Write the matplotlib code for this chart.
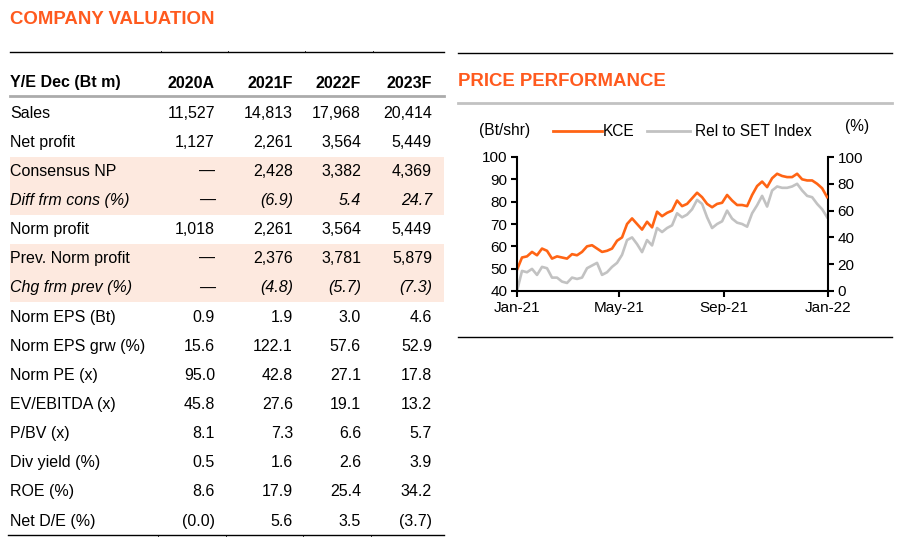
import numpy as np
import pandas as pd
import matplotlib
matplotlib.use("Agg")
import matplotlib.pyplot as plt
import matplotlib.dates as mdates
from matplotlib.patches import Rectangle

plt.rcParams["font.family"] = ["Liberation Sans", "DejaVu Sans"]

ORANGE = "#ff6414"
TITLE_ORANGE = "#ff5a1e"
SHADE = "#fde9df"
GREY_LINE = "#c2c2c2"

# ---- table data ----
columns = ["2020A", "2021F", "2022F", "2023F"]
row_labels = ["Sales", "Net profit", "Consensus NP", "Diff frm cons (%)",
              "Norm profit", "Prev. Norm profit", "Chg frm prev (%)",
              "Norm EPS (Bt)", "Norm EPS grw (%)", "Norm PE (x)",
              "EV/EBITDA (x)", "P/BV (x)", "Div yield (%)", "ROE (%)",
              "Net D/E (%)"]
values = [
    ["11,527", "14,813", "17,968", "20,414"],
    ["1,127", "2,261", "3,564", "5,449"],
    ["\u2014", "2,428", "3,382", "4,369"],
    ["\u2014", "(6.9)", "5.4", "24.7"],
    ["1,018", "2,261", "3,564", "5,449"],
    ["\u2014", "2,376", "3,781", "5,879"],
    ["\u2014", "(4.8)", "(5.7)", "(7.3)"],
    ["0.9", "1.9", "3.0", "4.6"],
    ["15.6", "122.1", "57.6", "52.9"],
    ["95.0", "42.8", "27.1", "17.8"],
    ["45.8", "27.6", "19.1", "13.2"],
    ["8.1", "7.3", "6.6", "5.7"],
    ["0.5", "1.6", "2.6", "3.9"],
    ["8.6", "17.9", "25.4", "34.2"],
    ["(0.0)", "5.6", "3.5", "(3.7)"],
]
italic_rows = ["Diff frm cons (%)", "Chg frm prev (%)"]
shaded_rows = ["Consensus NP", "Diff frm cons (%)", "Prev. Norm profit", "Chg frm prev (%)"]

# ---- price data ----
kce = [49.5, 55, 55.5, 57.5, 56, 59, 58, 54.5, 55.5, 55, 54.5, 56.5, 56, 57.5,
       60, 60.5, 59, 57.5, 58, 59, 62.5, 64, 70, 72.5, 70, 67.5, 71, 68.5,
       75.5, 73.5, 75, 76, 80.5, 78, 79, 81.5, 84, 82, 79, 77.5, 79, 79.5,
       83, 80.5, 78.5, 78.5, 78, 83, 87, 89, 86.5, 90.5, 92.5, 91.5, 91, 91,
       92.5, 90, 89.5, 89.5, 88, 86, 82]
rel_set = [0, 15, 14, 16.5, 12, 18, 17, 10, 10, 7, 6, 10, 9, 10, 17, 19, 21,
           12, 14, 18, 21, 27, 38, 40, 35, 29, 38, 34, 47, 44, 47, 49, 58, 55,
           57, 61, 68, 65, 55, 47, 50, 52, 60, 54, 51, 50, 48, 58, 64, 71, 63,
           75, 78, 77, 77, 78, 80, 75, 71, 70, 65, 61, 55]
dates = pd.date_range("2021-01-01", "2021-12-31", periods=len(kce))

W, H = 902, 550
fig = plt.figure(figsize=(W / 100, H / 100), dpi=100)
bg = fig.add_axes([0, 0, 1, 1])
bg.set_xlim(0, W)
bg.set_ylim(H, 0)
bg.axis("off")

# ---- company valuation table ----
bg.text(10, 20, "COMPANY VALUATION", color=TITLE_ORANGE, fontsize=13.4,
        fontweight="bold", va="center", ha="left")
bg.plot([10, 444], [52, 52], color="black", lw=1.0)
for sx in [160.5, 227.5, 305, 373]:
    bg.plot([sx, sx], [50.5, 52], color="black", lw=0.6)

col_right = [215, 293, 361, 432]
bg.text(10, 83, "Y/E Dec (Bt m)", fontsize=11.5, fontweight="bold", va="center")
for cx, c in zip(col_right, columns):
    bg.text(cx, 83, c, fontsize=11.5, fontweight="bold", va="center", ha="right")
bg.plot([10, 444], [95.5, 95.5], color="#ababab", lw=2.0)

row_y0, row_dy = 113, 29.15
for i, (lab, vals) in enumerate(zip(row_labels, values)):
    y = row_y0 + i * row_dy
    if lab in shaded_rows:
        bg.add_patch(Rectangle((10, y - row_dy / 2), 434, row_dy,
                               facecolor=SHADE, edgecolor="none", zorder=0))
    style = "italic" if lab in italic_rows else "normal"
    bg.text(10, y, lab, fontsize=11.5, style=style, va="center", ha="left")
    for cx, v in zip(col_right, vals):
        bg.text(cx, y, v, fontsize=11.5, style=style, va="center", ha="right")

bg.plot([8, 444], [534.5, 534.5], color="black", lw=1.0)
for sx in [158, 225.5, 303, 371]:
    bg.plot([sx, sx], [534.5, 536], color="black", lw=0.6)

# ---- price performance panel ----
bg.plot([458, 892], [53, 53], color="black", lw=1.0)
bg.text(458, 82, "PRICE PERFORMANCE", color=TITLE_ORANGE, fontsize=13.4,
        fontweight="bold", va="center", ha="left")
bg.plot([458, 892], [102.5, 102.5], color=GREY_LINE, lw=2.0)
bg.plot([458, 892], [337, 337], color="black", lw=1.0)

bg.text(479, 130, "(Bt/shr)", fontsize=11.2, va="center", ha="left")
bg.plot([553, 602], [131, 131], color=ORANGE, lw=2.0)
bg.text(603, 131, "KCE", fontsize=11.2, va="center", ha="left")
bg.plot([647, 690], [131, 131], color=GREY_LINE, lw=2.0)
bg.text(695, 131, "Rel to SET Index", fontsize=11.2, va="center", ha="left")
bg.text(845, 127, "(%)", fontsize=11.2, va="center", ha="left")

x0, x1, y0, y1 = 517, 828, 157, 291
ax = fig.add_axes([x0 / W, 1 - y1 / H, (x1 - x0) / W, (y1 - y0) / H])
ax2 = ax.twinx()

ax2.plot(dates, rel_set, color=GREY_LINE, lw=1.9)
ax.plot(dates, kce, color=ORANGE, lw=1.9)
ax.set_zorder(ax2.get_zorder() + 1)
ax.patch.set_visible(False)

ax.set_ylim(40, 100)
ax.set_yticks(np.arange(40, 101, 10))
ax2.set_ylim(0, 100)
ax2.set_yticks(np.arange(0, 101, 20))
ax.set_xlim(pd.Timestamp("2021-01-01"), pd.Timestamp("2022-01-01"))
ax.set_xticks([pd.Timestamp(d) for d in ["2021-01-01", "2021-05-01",
                                         "2021-09-01", "2022-01-01"]])
ax.xaxis.set_major_formatter(mdates.DateFormatter("%b-%y"))

for a in (ax, ax2):
    a.spines["top"].set_visible(False)
    for s in ["left", "right", "bottom"]:
        a.spines[s].set_linewidth(1.5)
    a.tick_params(labelsize=11, width=1.5, length=4, direction="out", pad=3)
ax.spines["right"].set_visible(False)
ax2.spines["left"].set_visible(False)
ax2.spines["bottom"].set_visible(False)

fig.savefig("out.png", dpi=100)
